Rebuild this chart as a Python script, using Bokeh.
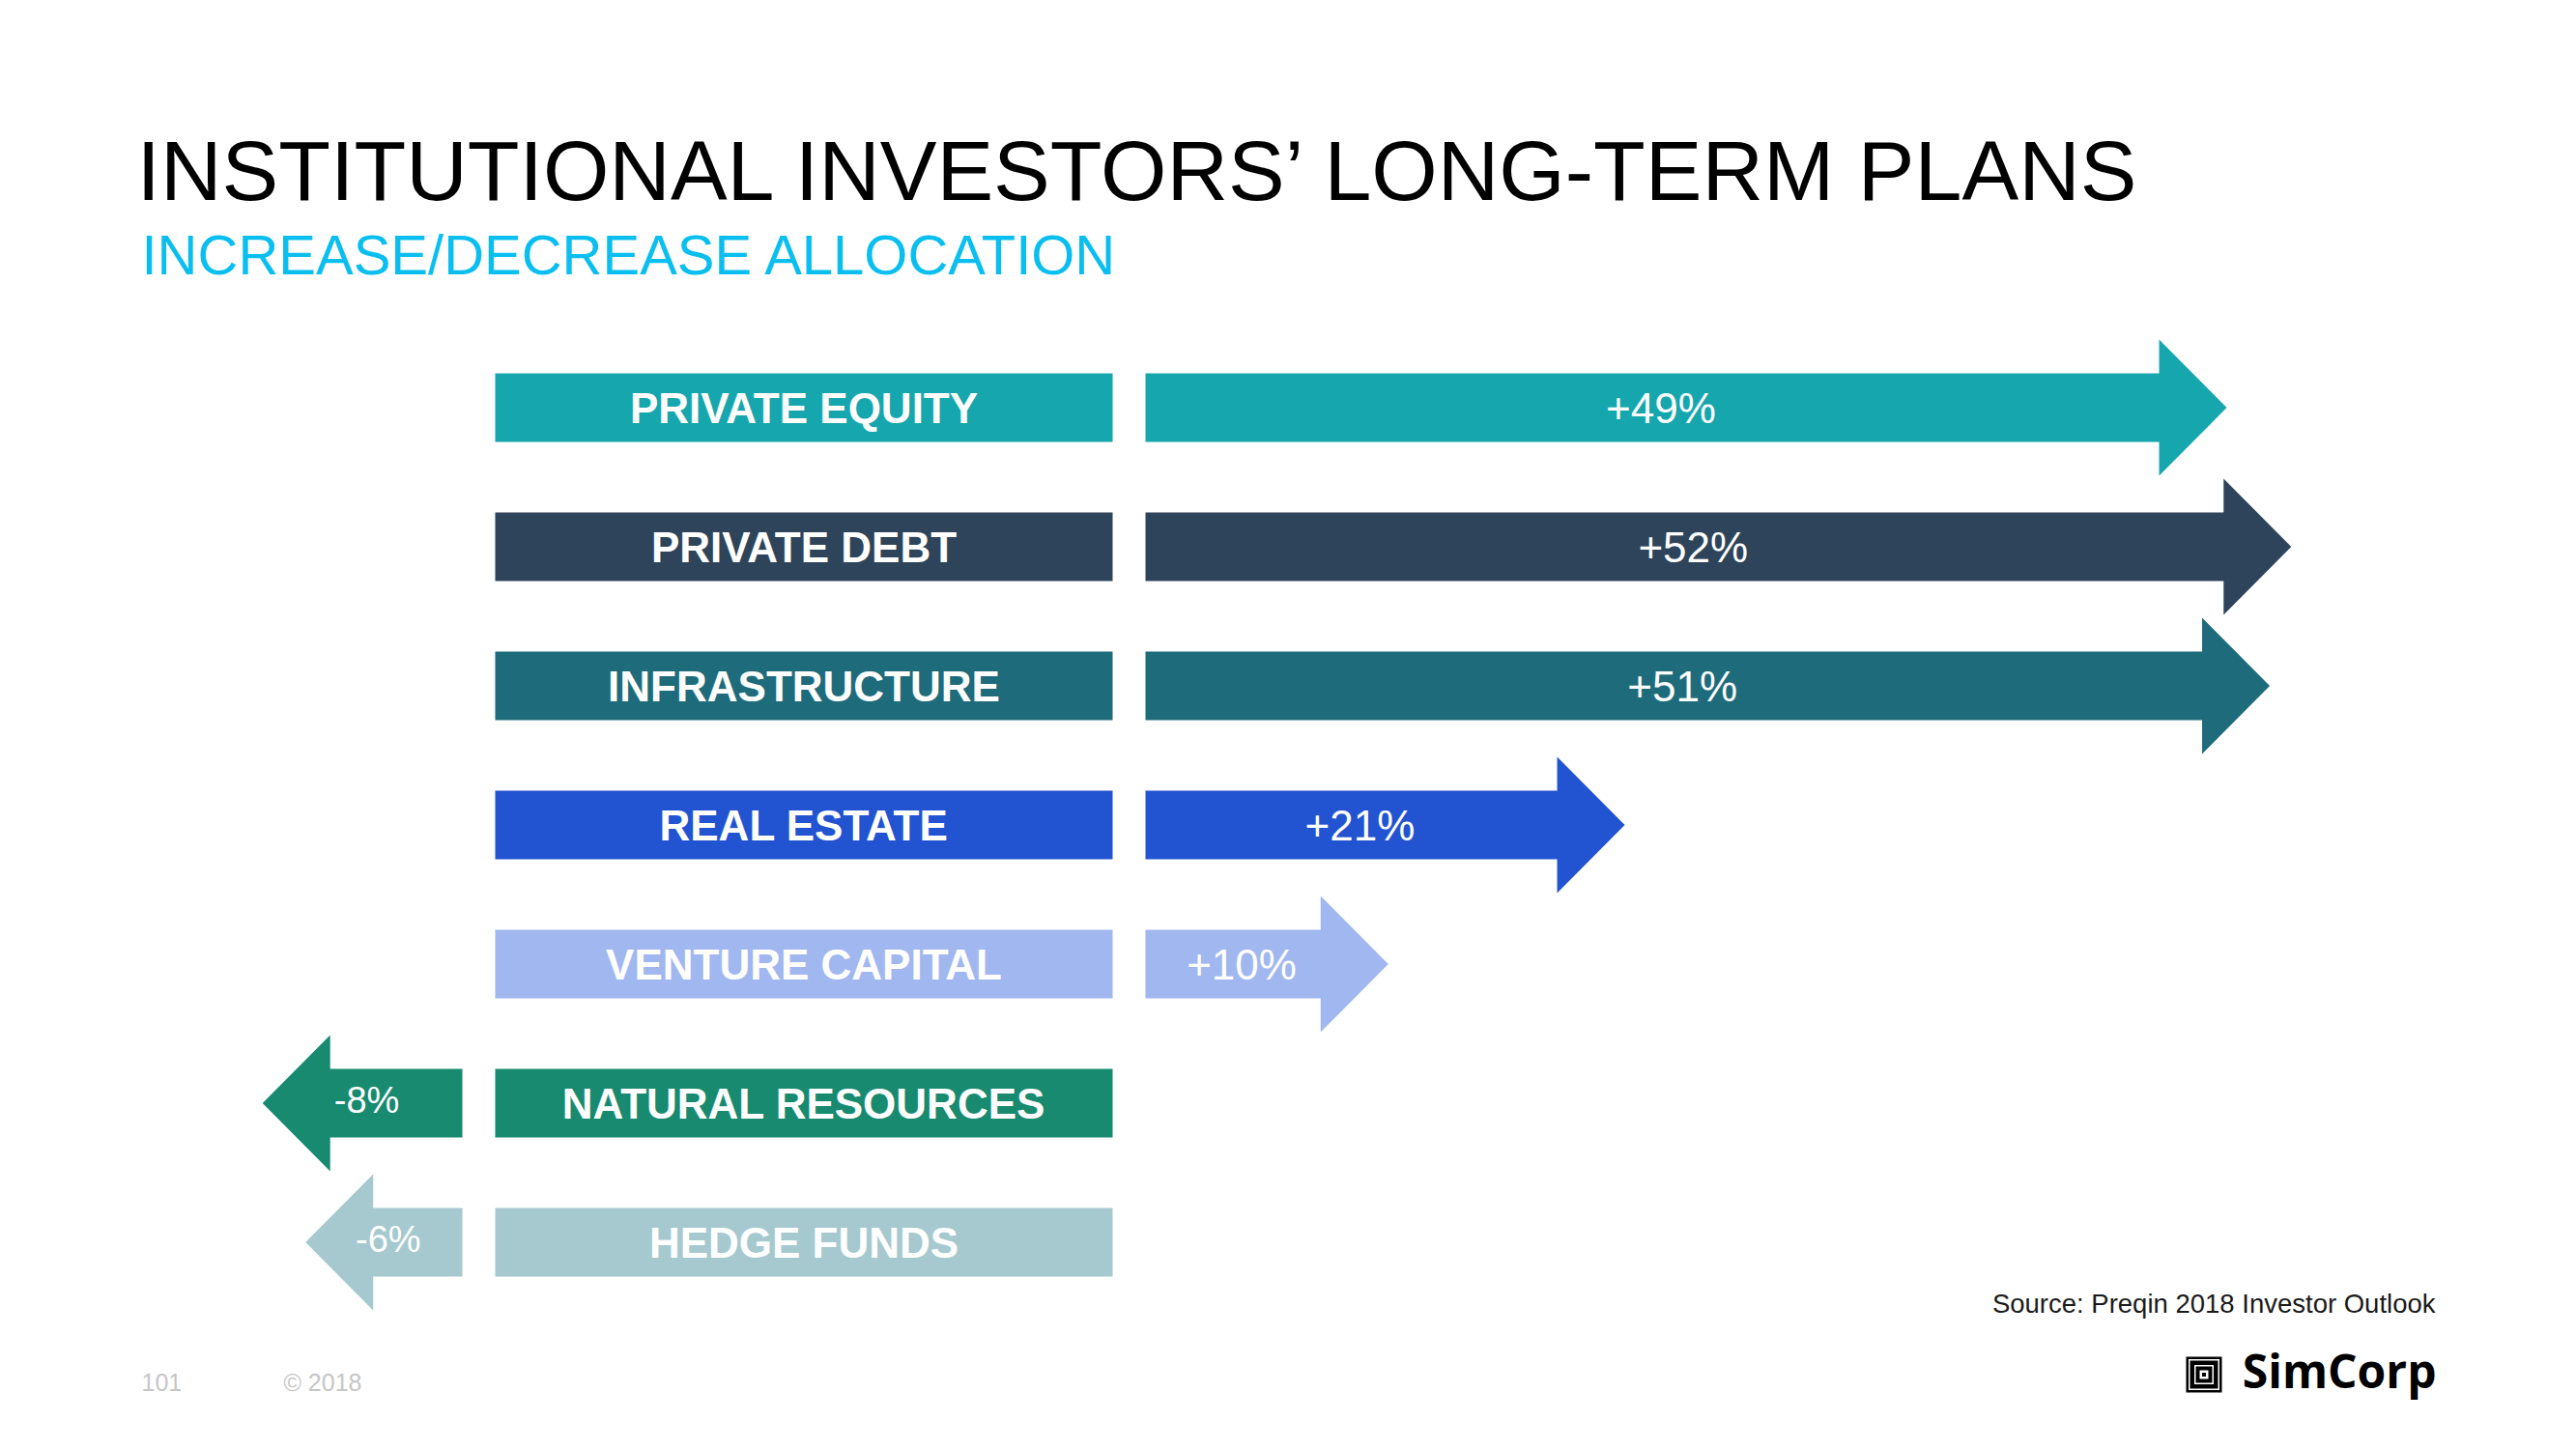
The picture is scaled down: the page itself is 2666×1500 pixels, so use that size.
from bokeh.plotting import figure
from bokeh.models import Range1d, Label, ColumnDataSource
from bokeh.core.properties import value
from bokeh.embed import file_html
from bokeh.resources import INLINE

# ---------------- data ----------------
categories = ["PRIVATE EQUITY", "PRIVATE DEBT", "INFRASTRUCTURE", "REAL ESTATE",
              "VENTURE CAPITAL", "NATURAL RESOURCES", "HEDGE FUNDS"]
changes = [49, 52, 51, 21, 10, -8, -6]
value_labels = ["+49%", "+52%", "+51%", "+21%", "+10%", "-8%", "-6%"]
colors = ["#16A6AD", "#2E445A", "#1E6B7B", "#2253D0", "#A1B7EF", "#178A70", "#A6C9CF"]
title_text = "INSTITUTIONAL INVESTORS\u2019 LONG-TERM PLANS"
subtitle_text = "INCREASE/DECREASE ALLOCATION"
source_text = "Source: Preqin 2018 Investor Outlook"
page_number = "101"
copyright_text = "\u00a9 2018"
brand = "SimCorp"

# ---------------- layout ----------------
W, H = 2666, 1500
PX_PER_UNIT = 22.25     # pixels per percentage point
STUB = 28.8 / PX_PER_UNIT   # minimum arrow length (layout)
ORIGIN_PX = 1185        # where increase arrows start
ROW0_PX = 421.5
ROW_STEP = 144.0
BASE_FIX = 0.4          # empirical baseline correction (em)


def xd(px):
    return (px - ORIGIN_PX) / PX_PER_UNIT


def yd(py):
    return (py - ROW0_PX) / ROW_STEP


def yb(py, fs):
    """data y for a text whose alphabetic baseline should sit at pixel py"""
    return yd(py - BASE_FIX * fs)


shaft_half = 35.5 / ROW_STEP
head_half = 70.5 / ROW_STEP
head_len = 70.0 / PX_PER_UNIT
neg_start = xd(478)
pos_start = 0.0
box_left, box_right = xd(512), xd(1151)

rows = list(range(len(categories)))
LABEL_FS = 44
POS_FS = 44
NEG_FS = 38

arrow_xs, arrow_ys, val_x, val_y, val_size = [], [], [], [], []
for i, v in zip(rows, changes):
    s = pos_start if v > 0 else neg_start
    d = 1 if v > 0 else -1
    t = s + d * (STUB + abs(v))
    b = t - d * head_len
    arrow_xs.append([s, b, b, t, b, b, s])
    arrow_ys.append([i - shaft_half, i - shaft_half, i - head_half, i,
                     i + head_half, i + shaft_half, i + shaft_half])
    row_px = ROW0_PX + i * ROW_STEP
    if v > 0:
        val_x.append((s + b) / 2 + 0.4)
        val_y.append(yb(row_px + 18.5, POS_FS))
        val_size.append(f"{POS_FS}px")
    else:
        val_x.append((s + t) / 2 + 0.2)
        val_y.append(yb(row_px + 12.0, NEG_FS))
        val_size.append(f"{NEG_FS}px")

arrows = ColumnDataSource(dict(xs=arrow_xs, ys=arrow_ys, color=colors))
boxes = ColumnDataSource(dict(
    left=[box_left] * len(rows), right=[box_right] * len(rows),
    top=[i - shaft_half for i in rows], bottom=[i + shaft_half for i in rows],
    color=colors, label=categories,
    lx=[(box_left + box_right) / 2] * len(rows),
    ly=[yb(ROW0_PX + i * ROW_STEP + 18.0, LABEL_FS) for i in rows]))
vals = ColumnDataSource(dict(x=val_x, y=val_y, text=value_labels, size=val_size))

p = figure(width=W, height=H,
           x_range=Range1d(xd(0), xd(W)), y_range=Range1d(yd(H), yd(0)),
           output_backend="svg", toolbar_location=None, min_border=0,
           x_axis_location=None, y_axis_location=None,
           outline_line_color=None, background_fill_color="white",
           border_fill_color="white")
p.grid.visible = False

p.patches(xs="xs", ys="ys", fill_color="color", line_color=None, source=arrows)
p.quad(left="left", right="right", top="top", bottom="bottom",
       fill_color="color", line_color=None, source=boxes)

p.text(x="lx", y="ly", text="label", source=boxes, text_color="white",
       text_font=value("Liberation Sans"), text_font_style="bold",
       text_font_size=f"{LABEL_FS}px", text_align="center", text_baseline="alphabetic")
p.text(x="x", y="y", text="text", source=vals, text_color="white",
       text_font=value("Liberation Sans"), text_font_size="size",
       text_align="center", text_baseline="alphabetic")

# titles
p.add_layout(Label(x=xd(141), y=yb(211, 88), text=title_text, text_color="#000000",
                   text_font="Liberation Sans", text_font_size="88px",
                   text_align="left", text_baseline="alphabetic"))
p.add_layout(Label(x=xd(146), y=yb(286, 58), text=subtitle_text, text_color="#0ABFEF",
                   text_font="Liberation Sans", text_font_size="58px",
                   text_align="left", text_baseline="alphabetic"))

# source & footer
p.add_layout(Label(x=xd(2520), y=yb(1360, 28), text=source_text, text_color="#1A1A1A",
                   text_font="Liberation Sans", text_font_size="27.5px",
                   text_align="right", text_baseline="alphabetic"))
p.add_layout(Label(x=xd(146), y=yb(1440, 25), text=page_number, text_color="#C6C6C6",
                   text_font="Liberation Sans", text_font_size="25px",
                   text_align="left", text_baseline="alphabetic"))
p.add_layout(Label(x=xd(293), y=yb(1440, 25), text=copyright_text, text_color="#C6C6C6",
                   text_font="Liberation Sans", text_font_size="25px",
                   text_align="left", text_baseline="alphabetic"))

# brand logo
logo_sizes = [37, 32, 29, 20, 17, 9, 4]
logo_cols = ["#000000", "#FFFFFF", "#000000", "#FFFFFF", "#000000", "#FFFFFF", "#000000"]
p.rect(x=[xd(2280.5)] * len(logo_sizes), y=[yd(1422.5)] * len(logo_sizes),
       width=logo_sizes, height=logo_sizes, width_units="screen", height_units="screen",
       fill_color=logo_cols, line_color=None)
p.add_layout(Label(x=xd(2521), y=yb(1437, 48), text=brand, text_color="#000000",
                   text_font="Open Sans", text_font_style="bold", text_font_size="48px",
                   text_align="right", text_baseline="alphabetic"))

open("out.html", "w").write(file_html(p, INLINE))
